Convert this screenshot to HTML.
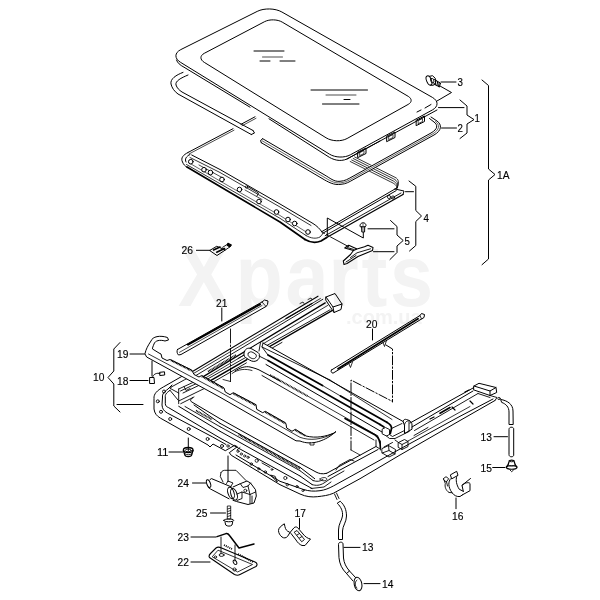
<!DOCTYPE html>
<html><head><meta charset="utf-8"><title>Sunroof parts diagram</title>
<style>
html,body{margin:0;padding:0;background:#fff;}
body{width:600px;height:600px;overflow:hidden;position:relative;font-family:"Liberation Sans",sans-serif;}
svg{position:absolute;left:0;top:0;display:block;will-change:transform;}
svg path, svg ellipse, svg circle, svg rect{fill:none;stroke:#000;stroke-linecap:round;stroke-linejoin:round;}
svg text.wm{fill:#f3f3f3;stroke:none;mix-blend-mode:multiply;}
svg text{font-family:"Liberation Sans",sans-serif;fill:#000;stroke:#000;stroke-width:0.15px;}
</style></head><body>
<svg width="600" height="600" viewBox="0 0 600 600">
<path d="M188,152.5L233,128.7" stroke-width="1" />
<path d="M189,154L234,130.2" stroke-width="0.7" />
<path d="M241,124.3L255,116.8" stroke-width="1" />
<path d="M242,125.8L256,118.3" stroke-width="0.7" />
<path d="M188,152.5C183,155 180.5,158 182.5,162C183.5,164.5 185,166 187,167.3" stroke-width="1" />
<path d="M190,154.5C186,156.5 184.5,159 186,162" stroke-width="1" />
<path d="M191.7,155L220,169.5L280,204L313,223.5C317,226 320,229 322,232" stroke-width="1" />
<path d="M190,157.5L220,172.5L280,207L311,225.5" stroke-width="0.8" />
<path d="M187,167L220,186.5L280,222L305,239.5" stroke-width="1.7" />
<path d="M186.5,164.5L220,183.7L280,218.3L306,235.5" stroke-width="0.8" />
<path d="M188.5,162.5L220,181L280,215.5L307,232.5" stroke-width="0.6" />
<path d="M199,165L222,177.5M245,190L262,199.5" stroke-width="0.7" />
<circle cx="190.8" cy="161.7" r="2.3" stroke-width="1" style="fill:#fff"/>
<circle cx="204" cy="169.7" r="2.3" stroke-width="1" style="fill:#fff"/>
<circle cx="210.5" cy="172.5" r="2.3" stroke-width="1" style="fill:#fff"/>
<circle cx="222" cy="179.5" r="2.3" stroke-width="1" style="fill:#fff"/>
<circle cx="239.5" cy="189.5" r="2.3" stroke-width="1" style="fill:#fff"/>
<circle cx="259" cy="201.5" r="2.3" stroke-width="1" style="fill:#fff"/>
<circle cx="276.5" cy="212" r="2.3" stroke-width="1" style="fill:#fff"/>
<circle cx="288" cy="219.5" r="2.3" stroke-width="1" style="fill:#fff"/>
<circle cx="294.7" cy="223.5" r="2.3" stroke-width="1" style="fill:#fff"/>
<circle cx="308" cy="232" r="2.3" stroke-width="1" style="fill:#fff"/>
<path d="M247.5,186.5L258.5,193L257,196" stroke-width="0.9" />
<circle cx="246.5" cy="187" r="1.2" stroke-width="0.7"/>
<path d="M305,239.5C310,242.5 316,243 321,241L326.7,237.5" stroke-width="1.7" />
<path d="M306,235.5C311,238.5 316,239 320,237L323,233.5" stroke-width="0.8" />
<path d="M321.7,231.7L395.0,189.0" stroke-width="1" />
<path d="M322.7,233.3L396.2,190.6" stroke-width="1" />
<path d="M325.2,235.7L401.0,193.0" stroke-width="0.9" />
<path d="M326.7,237.5L403.0,194.5" stroke-width="1.3" />
<path d="M395,189L404,191L403,194.5" stroke-width="1" />
<path d="M351.7,160L392,180.3C396,182 398.0,185.0 397,188" stroke-width="0.8" />
<path d="M353.2,158.5L393.5,178.8C397.5,180.5 398.75,184.25 397,188" stroke-width="0.8" />
<path d="M354.7,157L395,177.3C399,179 399.5,183.5 397,188" stroke-width="0.8" />
<path d="M350.2,161.5L390.5,181.8C394.5,183.5 397.25,185.75 397,188" stroke-width="0.8" />
<path d="M397,188L395,189" stroke-width="1" />
<circle cx="389" cy="197" r="1.6" stroke-width="0.8"/>
<circle cx="393" cy="197.5" r="1.6" stroke-width="0.8"/>
<path d="M183,72.4C176,75 170,79 171,84C172,88 174,91 178,94L251.3,134.5" stroke-width="1" />
<path d="M188,75C181,78 175,81 176,85C177,88 179,90 182,92L253,130.5" stroke-width="1" />
<path d="M251.3,134.5L254.5,133L253,130.5" stroke-width="1" />
<path d="M262,140.7L323,176.5C329,180 334,183.7 340.5,182.8C345.5,182.5 348.5,180.5 352.5,178.3L432.5,134C440,129.7 440,124.7 435.5,121.5L430,117.7" stroke-width="4" style="stroke:#fff"/>
<path d="M262.7,138.7L324,174.6C330,178 334,182 340,181.3C345,181 348,179 352,176.8L431,133C438,129 438,125 434,122L429.5,118.5" stroke-width="1" />
<path d="M261.3,142.7L322,178.4C328,182 334,185.5 341,184.3C346,184 349,182 353,179.8L434,135C442,130.5 442,124.5 437,121L431,117" stroke-width="1" />
<path d="M262.7,138.7L260.5,140.5L261.3,142.7" stroke-width="1" />
<path d="M262,140.7L323,176.5C329,180 334,183.7 340.5,182.8C345.5,182.5 348.5,180.5 352.5,178.3L432.5,134C440,129.7 440,124.7 435.5,121.5" stroke-width="0.6" />
<path d="M180.3,62.2C174.2,58.5 174.4,52.8 180.8,49.6L257.2,11.4C264.1,7.9 275.2,8.2 281.9,12.0L432.4,97.4C438.6,100.9 438.6,106.6 432.3,110.0L350.4,154.8C344.6,158.0 335.3,157.8 329.7,154.3Z" stroke-width="1" style="fill:#fff"/>
<path d="M204.0,62.2C199.7,59.6 199.9,55.6 204.3,53.3L264.7,21.6C269.6,19.1 277.5,19.3 282.2,22.1L408.3,96.4C412.1,98.7 412.1,102.3 408.2,104.4L347.1,138.5C341.3,141.7 332.0,141.5 326.4,138.0Z" stroke-width="1" />
<path d="M176.5,60C177.5,63 180,65 184,67.2L250,107.2" stroke-width="1" />
<path d="M269,118.8L327,155.8C333,160 340,162 347,159L380,141" stroke-width="1" />
<path d="M347,159L437,110" stroke-width="1" />
<path d="M254.0,51.0L284.0,51.0" stroke-width="1" />
<path d="M262.5,57.0L282.5,57.0" stroke-width="0.7" />
<path d="M260.0,61.0L270.0,61.0" stroke-width="1" />
<path d="M280.0,61.0L295.0,61.0" stroke-width="1" />
<path d="M311.0,90.0L367.5,90.0" stroke-width="1" />
<path d="M326.0,95.0L356.0,95.0" stroke-width="0.7" />
<path d="M344.0,99.5L350.0,99.5" stroke-width="1" />
<path d="M322.5,104.0L359.0,104.0" stroke-width="1" />
<path d="M417.0,112.0L421.0,110.0" stroke-width="1" />
<path d="M425.0,108.0L431.0,104.5" stroke-width="1" />
<path d="M358.0,152.0L366.0,148.0L366.0,153.5L358.0,157.5Z" stroke-width="1" />
<path d="M360.0,152.5L364.0,150.5L364.0,153.5L360.0,155.5Z" stroke-width="0.7" />
<path d="M387.0,136.0L395.0,132.0L395.0,137.5L387.0,141.5Z" stroke-width="1" />
<path d="M389.0,136.5L393.0,134.5L393.0,137.5L389.0,139.5Z" stroke-width="0.7" />
<path d="M416.5,120.0L424.5,116.0L424.5,121.5L416.5,125.5Z" stroke-width="1" />
<path d="M418.5,120.5L422.5,118.5L422.5,121.5L418.5,123.5Z" stroke-width="0.7" />
<path d="M327.3,236L327.3,218L363.3,238L363.3,232.5" stroke-width="1" />
<path d="M322,232L331,237.2" stroke-width="0.8" stroke-dasharray="3 2"/>
<path d="M331,237.2L348.7,246.7" stroke-width="0.9" />
<path d="M360,225.5C360,221.8 366,221.8 366,225.5L365.3,226.8L360.7,226.8ZM361.6,226.8L361.8,232L364.6,232L364.7,226.8" stroke-width="1" />
<path d="M363,223L363,231" stroke-width="0.6" />
<path d="M343.3,261L350.5,254.5L353.5,250.5L357,249L364.5,246.8L368,245.3L373,247.5L372.5,250.5L358,256.5L347,263.5L344,264.5Z" stroke-width="1.1" />
<path d="M353.5,250.5L344.7,248L348.7,245.3L356.5,248.8" stroke-width="1.1" />
<path d="M350.5,257.5L357,252.8L370.5,248.8M346,262L356,255.5M347,247.5L354,249.5" stroke-width="0.9" />
<path d="M210,250.3L216.7,246.3L225.3,250L217.3,255.3Z" stroke-width="1" />
<path d="M213.5,250L220,247M216.7,252.2L224.5,248.6" stroke-width="1.6" />
<path d="M222.7,247.3L228.5,243.5M225.3,250L230.5,246.5" stroke-width="0.9" />
<path d="M228,243.3L231.3,245L229.5,246.8L227.3,245.3Z" stroke-width="1.2" style="fill:#000"/>
<ellipse cx="429" cy="80.5" rx="2.4" ry="4.9" stroke-width="1" transform="rotate(-22 429 80.5)"/>
<path d="M429.5,76.3L432.5,75.7L435.3,78.3L435.5,82.5L433.5,85.3L430.7,85.2" stroke-width="1" />
<ellipse cx="432.3" cy="80.6" rx="1.5" ry="2.3" stroke-width="0.9" transform="rotate(-22 432.3 80.6)"/>
<path d="M434.5,79.5L440.5,83.3M433.8,84L439.3,86.8M440.5,83.3L439.3,86.8" stroke-width="1" />
<path d="M436,80.3L435.2,84.8M437.7,81.3L436.9,85.7M439.3,82.3L438.5,86.5" stroke-width="1" />
<path d="M440,86L451.5,92.5L437,101" stroke-width="1" />
<path d="M441.0,82.0L456.0,82.0" stroke-width="1" />
<path d="M438.5,107.6L464.0,107.6" stroke-width="1" />
<path d="M441.5,128.0L456.5,128.0" stroke-width="1" />
<path d="M460.0,100.0L467.0,106.0L467.0,115.0L474.0,119.6L467.0,124.0L467.0,133.0L460.0,138.5" stroke-width="1" />
<path d="M482.0,80.0L488.5,85.5L488.5,169.0L495.0,174.5L488.5,180.0L488.5,259.0L482.0,264.7" stroke-width="1" />
<path d="M405.5,191.7L413.5,191.7" stroke-width="1" />
<path d="M409.0,181.0L415.8,186.3L415.8,210.5L421.5,216.0L415.8,221.5L415.8,245.5L409.5,251.0" stroke-width="1" />
<path d="M368.0,228.8L394.0,228.8" stroke-width="1" />
<path d="M373.5,251.7L394.0,251.7" stroke-width="1" />
<path d="M390.5,220.5L397.0,226.5L397.0,235.0L403.2,240.5L397.0,246.0L397.0,252.5L390.0,259.5" stroke-width="1" />
<path d="M196.4,250.3L210.0,250.3" stroke-width="1" />
<text x="457.5" y="86" font-size="11" text-anchor="start" textLength="5.4" lengthAdjust="spacingAndGlyphs" >3</text>
<text x="474.5" y="122" font-size="11" text-anchor="start" textLength="5.4" lengthAdjust="spacingAndGlyphs" >1</text>
<text x="457.5" y="132" font-size="11" text-anchor="start" textLength="5.4" lengthAdjust="spacingAndGlyphs" >2</text>
<text x="497" y="179" font-size="11" text-anchor="start" textLength="12.5" lengthAdjust="spacingAndGlyphs" >1A</text>
<text x="423.5" y="221.6" font-size="11" text-anchor="start" textLength="5.4" lengthAdjust="spacingAndGlyphs" >4</text>
<text x="404.5" y="245" font-size="11" text-anchor="start" textLength="5.4" lengthAdjust="spacingAndGlyphs" >5</text>
<text x="181.5" y="254.3" font-size="11" text-anchor="start" textLength="11.5" lengthAdjust="spacingAndGlyphs" >26</text>
<path d="M186,374L163.3,387C157,390.5 153.6,394 154,398.5L154,409C154.5,413.5 157,416.2 160.7,418.3L208,445L210,447L213,444L225.3,450.7L234.7,445.3L237.3,446.7L229.3,452.7L231.3,455.3L280,484.7L300,494C306,496.8 312,497.3 317.3,496.7C323,496 328,495.5 333.3,493.3L360,478.7L400,455L460,420.5L495,400.5" stroke-width="1" />
<path d="M236,455L280,481.3L303,489.3C309,491.3 314,491.5 320,490.7C325,490 329,488.3 333.3,486L360,471.3L400,449L460,416.3L493,399" stroke-width="1" />
<path d="M172,385L168,389C164,392 162.2,394 162.5,397L162,405C162.3,409 164,411 167.3,413L212.7,437L226,444.5" stroke-width="1" />
<path d="M170,390.3C166,393 165,395 165.3,397L165.3,403.7C165.5,406 166.5,406.7 168.7,407.7L220,438L300,482L312,488.5" stroke-width="1" />
<circle cx="164" cy="391.5" r="1.5" stroke-width="0.9"/>
<circle cx="157.8" cy="401.3" r="1.5" stroke-width="0.9"/>
<circle cx="161" cy="411.8" r="1.5" stroke-width="0.9"/>
<circle cx="170.2" cy="419" r="1.5" stroke-width="0.9"/>
<circle cx="188.7" cy="429" r="1.5" stroke-width="0.9"/>
<circle cx="207.6" cy="439" r="1.5" stroke-width="0.9"/>
<circle cx="222" cy="446" r="1.5" stroke-width="0.9"/>
<circle cx="228" cy="446" r="1.2" stroke-width="0.8"/>
<circle cx="238" cy="451.3" r="1.1" stroke-width="0.8"/>
<circle cx="241.3" cy="454" r="1.1" stroke-width="0.8"/>
<circle cx="244.7" cy="456" r="1.1" stroke-width="0.8"/>
<circle cx="248" cy="457.3" r="1.1" stroke-width="0.8"/>
<circle cx="251.3" cy="464" r="1.2" stroke-width="0.8"/>
<circle cx="256.7" cy="460.7" r="1.6" stroke-width="0.8"/>
<circle cx="258.7" cy="468.7" r="1.1" stroke-width="0.8"/>
<circle cx="265.3" cy="472" r="1.2" stroke-width="0.8"/>
<circle cx="285.3" cy="478" r="1.6" stroke-width="0.8"/>
<circle cx="287.3" cy="484.7" r="1.2" stroke-width="0.8"/>
<circle cx="297" cy="486.5" r="1.1" stroke-width="0.8"/>
<circle cx="303" cy="490.5" r="1.1" stroke-width="0.8"/>
<circle cx="272" cy="469.5" r="0.9" stroke-width="0.8"/>
<path d="M270.7,475.3L277.3,482L275.3,476.7Z M240,447.5L237,450M262,463L270,467.5" stroke-width="0.9" />
<path d="M192.7,397.7C190.5,399 190,400.5 191.3,401.7L220,418.7L300,463.3L316,472C319,473.5 322,474.5 326.7,473.3" stroke-width="1" />
<path d="M194.0,405.0L220.0,423.3" stroke-width="1" />
<path d="M220.0,423.3L300.0,467.3" stroke-width="1" />
<path d="M300.0,467.3L314.7,478.7" stroke-width="1" />
<path d="M185.0,406.5L220.0,426.7" stroke-width="0.9" />
<path d="M220.0,426.7L300.0,470.7" stroke-width="0.9" />
<path d="M300.0,470.7L313.0,480.5" stroke-width="0.9" />
<path d="M178.7,406.3L220.0,431.3" stroke-width="1" />
<path d="M220.0,431.3L300.0,476.0" stroke-width="1" />
<path d="M300.0,476.0L312.0,484.5" stroke-width="1" />
<path d="M238.7,434.5L300.0,468.8" stroke-width="1.9" stroke-dasharray="0.9 0.6" style="stroke-linecap:butt"/>
<path d="M196.0,410.5L212.0,419.5" stroke-width="1.8" stroke-dasharray="0.9 0.6" style="stroke-linecap:butt"/>
<path d="M312,484.5C316,486 320,485.5 324,483L330,479M313,480.5C317,482 320,481.5 323,479.5M311,488.5L324,487L331,482" stroke-width="0.9" />
<path d="M320,479C322,477 326,477 327,479C327,481 322,482 320,479Z" stroke-width="0.8" />
<path d="M326.7,473.3L376.0,446.5" stroke-width="1" />
<path d="M328.0,476.5L378.0,449.5" stroke-width="1" />
<path d="M330.0,479.0L344.0,471.0" stroke-width="0.9" />
<path d="M336,470L339,465.5L350,459.5L354,461" stroke-width="0.9" />
<path d="M318.0,296.2L190.0,373.0" stroke-width="1.1" />
<path d="M320.4,298.5L193.2,373.7" stroke-width="0.8" />
<path d="M322.8,299.3L196.4,375.2" stroke-width="0.9" />
<path d="M325.2,302.9L199.6,378.9" stroke-width="1.3" />
<path d="M327.6,305.5L202.8,379.6" stroke-width="0.8" />
<path d="M330.0,309.8L206.0,379.9" stroke-width="0.9" />
<path d="M332.4,310.3L209.2,381.4" stroke-width="1.4" />
<path d="M282.0,342.4L212.4,382.5" stroke-width="0.9" />
<path d="M208.0,371.5L236.0,355.0" stroke-width="1.9" stroke-dasharray="0.9 0.6" style="stroke-linecap:butt"/>
<path d="M286.0,318.5L312.0,303.5" stroke-width="1.3" />
<path d="M171.3,387L184.7,379.7L190,377M178.7,389L202,378.3M180.5,391L204,380M183,393L206,382M178.7,401L206,387.7M180.7,403.7L194,397" stroke-width="0.9" />
<path d="M171.3,387L170,388.3L178.7,393L178.7,403.7M178.7,389L178.7,393M170,390.3L178,400" stroke-width="0.9" />
<path d="M184,386.5L186,390.5L190,388.5M196,383L199,380.5M202,381L203,384.5" stroke-width="0.8" />
<path d="M326,297L335,293.5L342,304L341,309.5L334,312.5L326,300.5Z" stroke-width="1" style="fill:#fff"/>
<path d="M326,297L333,307L342,304M333,307L334,312.5" stroke-width="1" />
<path d="M300,303.5L303,302L304,303.5M308,299.5L311,298L312,299.5" stroke-width="0.8" />
<path d="M260.5,342.5L263,343L404,422L380,436L270,380L246,366L250,349Z" stroke="none" stroke-width="0" style="fill:#fff"/>
<path d="M263.0,343.0L404.0,422.0" stroke-width="1" />
<path d="M262.0,347.0L330.0,380.0" stroke-width="0.9" />
<path d="M330.0,380.0L392.0,419.5" stroke-width="0.8" />
<path d="M268.0,355.0L322.5,385.5" stroke-width="1.8" />
<path d="M340.5,396.0L386.8,422.2" stroke-width="1.8" />
<path d="M322.5,385.5L340.5,396.0" stroke-width="0.8" />
<path d="M268.0,360.5L380.0,424.5" stroke-width="1.7" />
<path d="M380,424.5L384,427M386.8,422.2C390,424 391.8,426 391.5,428.5L390.3,433.5" stroke-width="1.7" />
<path d="M266.0,364.5L382.0,432.0" stroke-width="1" />
<path d="M270.0,375.0L307.5,396.0" stroke-width="1.9" stroke-dasharray="0.9 0.6" style="stroke-linecap:butt"/>
<path d="M307.5,396.0L378.0,436.0" stroke-width="0.8" />
<path d="M262.0,375.5L374.0,440.0" stroke-width="0.9" />
<path d="M235,371C240,367.5 246,366 250,367C254,368 258,369 262,371.5L280,381" stroke-width="1" />
<path d="M232,373.5C238,369 246,368.5 252,370.5" stroke-width="0.8" />
<path d="M244.5,351.5C245.5,348 249,347.5 252,349L258,352.5C260.5,354.5 260,358.5 257,360.5C254.5,362 252,361.5 249.5,360L245.5,357.5C243.5,356 243.5,353.5 244.5,351.5Z" stroke-width="1" style="fill:#fff"/>
<path d="M248.5,353C249.5,351.5 251.5,351.5 253,352.5L255.5,354C257,355.5 256.5,357.5 254.5,358.5C253,359 251.5,358.5 250,357.5L248.8,356.5C247.8,355.5 247.8,354 248.5,353Z" stroke-width="0.9" />
<path d="M260.5,342.5L259,351M263,343L262,347L268,355M244,355L238,358.5M259,356L268,360.5" stroke-width="0.9" />
<path d="M345,418.5L375.2,435C379,437.5 380.5,441 380.4,448" stroke-width="1.6" />
<path d="M403.2,421C403.5,419.5 405,419 406.5,419.5L409,420.4C411,421.5 412,423 412,425L412,429.2L409,431L404.5,433.5L404.5,426Z" stroke-width="1" style="fill:#fff"/>
<path d="M404.5,426C404.3,423.5 405.5,421.5 407.5,421M409,420.4L409,431" stroke-width="0.9" />
<path d="M382.5,429L385.5,427.5L389.5,429.5L389.5,434.5L386.5,436L382.5,434Z M389.5,434.5L392.5,436.5L404.5,430.5M386.5,436L389.5,438.5L395,438.5L409,431.5" stroke-width="0.9" />
<path d="M391.5,428.5L402,423.5" stroke-width="0.9" />
<path d="M382.2,448.5L388.5,445.5L395.5,449.5L395,454L389,457L382.2,453ZM388.5,445.5L389,450.5L395,454M389,450.5L382.2,453" stroke-width="0.9" />
<path d="M398.5,442.5L404.5,439.5L408,441.5L408,446.5L402,449.5L398.5,447.5ZM402,449.5L402,444.5L408,441.5M402,444.5L398.5,442.5" stroke-width="0.9" />
<path d="M380.4,441L380.4,450M376,440L376,446.5L380,449M395,440L398.5,442.5M392.5,442.5L384,447" stroke-width="0.9" />
<path d="M410.0,423.0L474.0,387.5" stroke-width="1" />
<path d="M412.0,427.0L473.0,391.0" stroke-width="1" />
<path d="M414.5,430.5L478.0,393.5" stroke-width="0.9" />
<path d="M408.0,441.0L470.0,406.5" stroke-width="0.8" />
<path d="M440.0,413.3L450.0,407.5" stroke-width="1.6" />
<path d="M414.0,435.5L428.0,427.5" stroke-width="0.9" />
<path d="M465,392L469,390M452,407L455,410M430,419L434,417M470,401L473,404" stroke-width="1.2" />
<path d="M474,386L479,383.3L496,387.5L496.7,392.5L490,395.5L474,390Z" stroke-width="1" style="fill:#fff"/>
<path d="M474,386L490,391L496,387.5M490,391L490,395.5" stroke-width="1" />
<path d="M490,395.5L497,397.5L495,400.5M478,393.5L490,397.5" stroke-width="0.9" />
<circle cx="499" cy="398.5" r="1.2" stroke-width="0.8"/>
<path d="M145,353.5C146,349 148,345.5 151,341C152.5,336.5 160,335 167.5,337.5L168.5,340L165,341C160,339.5 155,340.5 154,344C153,346.5 152.3,348 152.5,349L159,353L161,354L162,358L167,360.5L170,359.5L191.7,370L192.5,371.5L194,374.5L199,377L201.7,375.5L223.3,387.5L224,388L225.3,392L230,394.7L233.3,392.7L256,404.7L256.7,409.3L262.7,412.7L265.3,411.3L285.3,422.7L286,424L286.7,428L292,431.3L295.3,429.3L306,436C316,438.5 326,436.5 334,433L336,431.5C326,440.5 312,446 300,441L296,440.8L220,397.2L147,357.2Z" stroke-width="1" style="fill:#fff"/>
<path d="M148.5,354L220,392L300,437.3C310,441 322,439.5 332,434" stroke-width="0.8" />
<path d="M171.0,360.3L191.7,370.8" stroke-width="1.9" stroke-dasharray="0.9 0.6" style="stroke-linecap:butt"/>
<path d="M201.7,376.3L223.3,388.3" stroke-width="1.9" stroke-dasharray="0.9 0.6" style="stroke-linecap:butt"/>
<path d="M233.3,393.5L256.0,405.5" stroke-width="1.9" stroke-dasharray="0.9 0.6" style="stroke-linecap:butt"/>
<path d="M265.3,412.1L285.3,423.5" stroke-width="1.9" stroke-dasharray="0.9 0.6" style="stroke-linecap:butt"/>
<path d="M295.3,430.1L305.0,435.6" stroke-width="1.9" stroke-dasharray="0.9 0.6" style="stroke-linecap:butt"/>
<path d="M310,442.5L310,445L314,445L314,442.8" stroke-width="0.8" />
<path d="M150,377.5L154,377.5L154.5,383.5L150,383.5ZM152.5,377.5C153,374 157,372.5 160,373.5M160,372.3L164.5,371.8L164.7,375L160.2,375.5Z" stroke-width="1" />
<path d="M152.0,361.0L152.0,376.0" stroke-width="1" />
<path d="M177.5,349.5L262,302L264.5,300L268,301L267.5,304.5L266,306.5L181,354.5L178.5,355C177,353.5 176.5,351 177.5,349.5Z" stroke-width="1" style="fill:#fff"/>
<path d="M188.0,344.6L260.0,304.3" stroke-width="2" />
<path d="M179.5,352.3L262.0,305.5" stroke-width="0.7" />
<path d="M262,302L266,306.5" stroke-width="0.8" />
<path d="M331.5,370L420,315.5L421.5,313.5L424.5,314.5L424,317.5L421.5,319L333,373.2C331,372.7 330.5,371 331.5,370Z" stroke-width="1" style="fill:#fff"/>
<path d="M338.0,368.8L418.0,318.8" stroke-width="1.8" />
<path d="M420,315.5L421.5,319" stroke-width="0.8" />
<path d="M349,364L350.5,367.5L352.5,362M383,342.5L384.5,346.5L386.5,340.5" stroke-width="0.8" />
<path d="M386,345L392.5,349L392.5,402" stroke-width="1" stroke-dasharray="9 2 1.5 2"/>
<path d="M351,450L351,380L392.5,401.5" stroke-width="1" stroke-dasharray="9 2 1.5 2"/>
<path d="M351,450L360,455" stroke-width="0.8" />
<path d="M221.8,308.0L221.8,321.0" stroke-width="1" />
<path d="M372.5,329.0L372.5,340.0" stroke-width="1" />
<path d="M230.5,329L230.5,381.5" stroke-width="0.9" stroke-dasharray="14 2 1.5 2"/>
<path d="M230.5,381.5L223,379.5" stroke-width="0.8" />
<path d="M188.3,438.0L188.3,450.5" stroke-width="1" />
<path d="M228.0,456.0L228.0,481.5" stroke-width="1" />
<path d="M501,399.5C507,400.5 513,404 513,411L513.2,424.5L509,424.5L509,412C509,407 506,404 502,402.5Z" stroke-width="1" />
<path d="M509,429C509,426.5 513.7,426.5 513.7,429L513.7,455C513.7,457.5 509,457.5 509,455Z" stroke-width="1" />
<path d="M509.3,461C509.3,459.8 514,459.8 514,461L515.3,465L517,467C517,470 506.3,470 506.3,467L508,465Z" stroke-width="1.2" />
<path d="M509.3,461C509.3,462.2 514,462.2 514,461M508,465C509,466.3 514.3,466.3 515.3,465M506.3,467C507.5,465.3 516,465.3 517,467M510,470L511.7,471.7L513.5,470" stroke-width="0.9" />
<path d="M450.7,474.7L456.7,471.3L458,475.3L452,478.7Z" stroke-width="1" />
<path d="M450.7,478.7C448,481.5 448,487 452,492.7C454,495.5 457,497 460,496.5L462.7,494.7" stroke-width="1" />
<path d="M456.7,476.7C455.5,480 456.5,485 459.3,489.3L463.3,491.3" stroke-width="1" />
<path d="M463.3,491.3L462,485.3L470.5,478.5M462,485.3C465,482.5 469,482 470,483.5L470,490.7L462.7,494.7" stroke-width="1" />
<path d="M443.3,478.7L446,476.7L448.7,478.7L446.5,481.7ZM444,480L445.3,483.5C444.5,487 446,490.5 449,492.5L452,492.7M446.5,481.7L447.5,486" stroke-width="0.9" />
<path d="M334.5,494L337,499.5M336.5,493L339,498.5" stroke-width="0.9" />
<path d="M337.5,503.5C341,507 343,511 342.5,516C342,520 338.5,524 338.5,530L338.5,539.5L342.5,539.5L342.5,531C342.5,526 346.5,522 346.5,516C346.5,510 344.5,505 340.5,501.5Z" stroke-width="1" />
<path d="M338.5,544C338.5,541.5 343,541.5 343,544L343.5,558C344,563 346,567 349.5,571L346.5,573.5C342,569 339.5,564 339,558Z" stroke-width="1" />
<path d="M349.5,571L355.5,577.5M346.5,573.5L353,581" stroke-width="1" />
<ellipse cx="358" cy="584" rx="3.8" ry="6.8" stroke-width="1" transform="rotate(-12 358 584)"/>
<path d="M357,580C354.5,582 354.5,586 357,588" stroke-width="0.9" />
<ellipse cx="188.2" cy="450" rx="4.8" ry="2.5" stroke-width="1.3"/>
<ellipse cx="188.2" cy="450.4" rx="3" ry="1.4" stroke-width="0.9"/>
<path d="M183.4,450.4L184.8,454.8C185,457.3 191.5,457.3 191.7,454.8L193,450.4" stroke-width="1.3" />
<path d="M185,453.8C186.5,455.2 190,455.2 191.5,453.8" stroke-width="0.9" />
<ellipse cx="208.6" cy="483.6" rx="1.8" ry="4" stroke-width="1" transform="rotate(-20 208.6 483.6)"/>
<path d="M210,479.6L211.5,478.6L231.5,487M208.5,487.6L210.5,489L229,498.8" stroke-width="1" />
<ellipse cx="231" cy="493" rx="3" ry="6" stroke-width="1" transform="rotate(-18 231 493)"/>
<ellipse cx="234" cy="494.3" rx="3" ry="6" stroke-width="1" transform="rotate(-18 234 494.3)"/>
<path d="M233,487L240.3,483.7L247,481L250.5,483L255.5,489.7L256.3,496L254,503L248,504.5L236.5,501.5L233,500.3" stroke-width="1" />
<path d="M237,494L242,492L242,498.5L237,500.5M242,492L250,494.5L250,503.5M250,494.5L255.5,492M250.5,483L248,486L243,487.5L240.3,483.7M248,486L250,494.5M252,496L252,503" stroke-width="0.9" />
<circle cx="245.3" cy="490.7" r="1.5" stroke-width="0.8"/>
<path d="M221,472.5C222,470.5 224,470.2 226,470.3L236,470.3L246,480.5M221,472.5L220.3,476.5L223,482M226.5,483.5L228,481L233,483L231,486" stroke-width="0.9" />
<path d="M227.7,506L230.7,506L230.7,519L227.7,519ZM227.7,509L230.7,508M227.7,511.5L230.7,510.5M227.7,514L230.7,513M227.7,516.5L230.7,515.5" stroke-width="0.8" />
<path d="M223.7,520.3C223.7,518.5 233.7,518.5 233.7,520.3C233.7,522.3 223.7,522.3 223.7,520.3ZM225,522L225.7,525C227.5,526.5 230.5,526.5 232,525L232.7,522" stroke-width="1" />
<path d="M217,536.6L226,533.6C227.5,533.3 228.5,534 229.5,535.5L239,548L254,544" stroke-width="1.5" />
<path d="M209.5,557.5C208.5,556 209,555 210.5,553.5L216,548C217.5,546.8 219,546.8 221,547.7L255,562C257.5,563 257.5,565 256,566.5L240,574.5C238,575.7 236.5,575.5 234.5,574.5Z" stroke-width="1.1" />
<path d="M212.5,556.5L218,550.2L252.5,564.5L238,571.8Z" stroke-width="0.8" />
<path d="M221.0,537.0L221.0,553.5" stroke-width="0.9" />
<path d="M235.0,545.0L235.0,561.0" stroke-width="0.9" />
<ellipse cx="221.6" cy="555" rx="2.5" ry="1.4" stroke-width="0.9"/>
<ellipse cx="235" cy="562.3" rx="1.6" ry="2.4" stroke-width="0.9" transform="rotate(-30 235 562.3)"/>
<circle cx="234.5" cy="569.5" r="1.6" stroke-width="0.8"/>
<circle cx="215.5" cy="557" r="1.1" stroke-width="0.8"/>
<path d="M224,545L232,549M238,554L253,562" stroke-width="1.8" stroke-dasharray="1 1" style="stroke-linecap:butt"/>
<path d="M284,524C281,526 278.5,528 278.5,530.5C278.5,533 280,535.5 282,537C284,538.5 286,538 287.5,536.5L290,532.5L294,527.8C295,526.8 296.5,526.7 297.5,527.5L303,534C305,536.5 307.5,538.5 310.5,539L305,545.5L302,545.5C299.5,544.5 297.5,542.5 296,540L291,533.5L289.5,532C287,531.5 285.5,529.5 285,527Z" stroke-width="1" />
<path d="M294.5,532L297,530.5L304.5,539.5L302,541.5ZM297,535L299.5,533.5M299.5,538L302,536.5" stroke-width="0.9" />
<path d="M130.0,354.0L144.5,354.0" stroke-width="1" />
<path d="M130.0,380.5L148.0,380.5" stroke-width="1" />
<path d="M117.0,404.5L143.0,404.5" stroke-width="1" />
<path d="M120,342.5L113.8,349L113.8,371L108,377.5L113.8,384L113.8,406L120,412" stroke-width="1" />
<path d="M169.0,452.0L183.0,452.0" stroke-width="1" />
<path d="M192.5,483.0L206.0,483.0" stroke-width="1" />
<path d="M210.5,513.0L225.5,513.0" stroke-width="1" />
<path d="M191.0,537.0L216.0,537.0" stroke-width="1" />
<path d="M191.0,562.0L210.0,562.0" stroke-width="1" />
<path d="M299.5,518.5L299.5,528.5" stroke-width="1" />
<path d="M344.0,547.4L360.0,547.4" stroke-width="1" />
<path d="M364.0,583.6L380.0,583.6" stroke-width="1" />
<path d="M494.0,436.7L507.5,436.7" stroke-width="1" />
<path d="M492.7,467.5L505.0,467.5" stroke-width="1" />
<path d="M456.0,498.0L456.0,508.7" stroke-width="1" />
<text x="216" y="306.8" font-size="11" text-anchor="start" textLength="11.4" lengthAdjust="spacingAndGlyphs" >21</text>
<text x="366" y="327.7" font-size="11" text-anchor="start" textLength="11.4" lengthAdjust="spacingAndGlyphs" >20</text>
<text x="117" y="358" font-size="11" text-anchor="start" textLength="11.4" lengthAdjust="spacingAndGlyphs" >19</text>
<text x="117" y="384.5" font-size="11" text-anchor="start" textLength="11.4" lengthAdjust="spacingAndGlyphs" >18</text>
<text x="93" y="381" font-size="11" text-anchor="start" textLength="11.4" lengthAdjust="spacingAndGlyphs" >10</text>
<text x="157" y="455.5" font-size="11" text-anchor="start" textLength="11.4" lengthAdjust="spacingAndGlyphs" >11</text>
<text x="177.5" y="487" font-size="11" text-anchor="start" textLength="11.4" lengthAdjust="spacingAndGlyphs" >24</text>
<text x="196" y="517.3" font-size="11" text-anchor="start" textLength="11.4" lengthAdjust="spacingAndGlyphs" >25</text>
<text x="177.5" y="541" font-size="11" text-anchor="start" textLength="11.4" lengthAdjust="spacingAndGlyphs" >23</text>
<text x="177.5" y="566" font-size="11" text-anchor="start" textLength="11.4" lengthAdjust="spacingAndGlyphs" >22</text>
<text x="294.5" y="517" font-size="11" text-anchor="start" textLength="11.4" lengthAdjust="spacingAndGlyphs" >17</text>
<text x="362" y="551" font-size="11" text-anchor="start" textLength="11.4" lengthAdjust="spacingAndGlyphs" >13</text>
<text x="382" y="588" font-size="11" text-anchor="start" textLength="11.4" lengthAdjust="spacingAndGlyphs" >14</text>
<text x="480.5" y="441" font-size="11" text-anchor="start" textLength="11.4" lengthAdjust="spacingAndGlyphs" >13</text>
<text x="480.5" y="471.6" font-size="11" text-anchor="start" textLength="11.4" lengthAdjust="spacingAndGlyphs" >15</text>
<text x="452" y="519.6" font-size="11" text-anchor="start" textLength="11.4" lengthAdjust="spacingAndGlyphs" >16</text>
<text class="wm" transform="translate(0,306.3) scale(0.88,1)" x="202.3 267.6 324.4 373.3 410.8 443.2" y="0" font-size="88" font-weight="bold">Xparts</text>
<text class="wm" x="346" y="324.2" font-size="20" font-weight="bold">.com.ua</text>
</svg>
</body></html>
